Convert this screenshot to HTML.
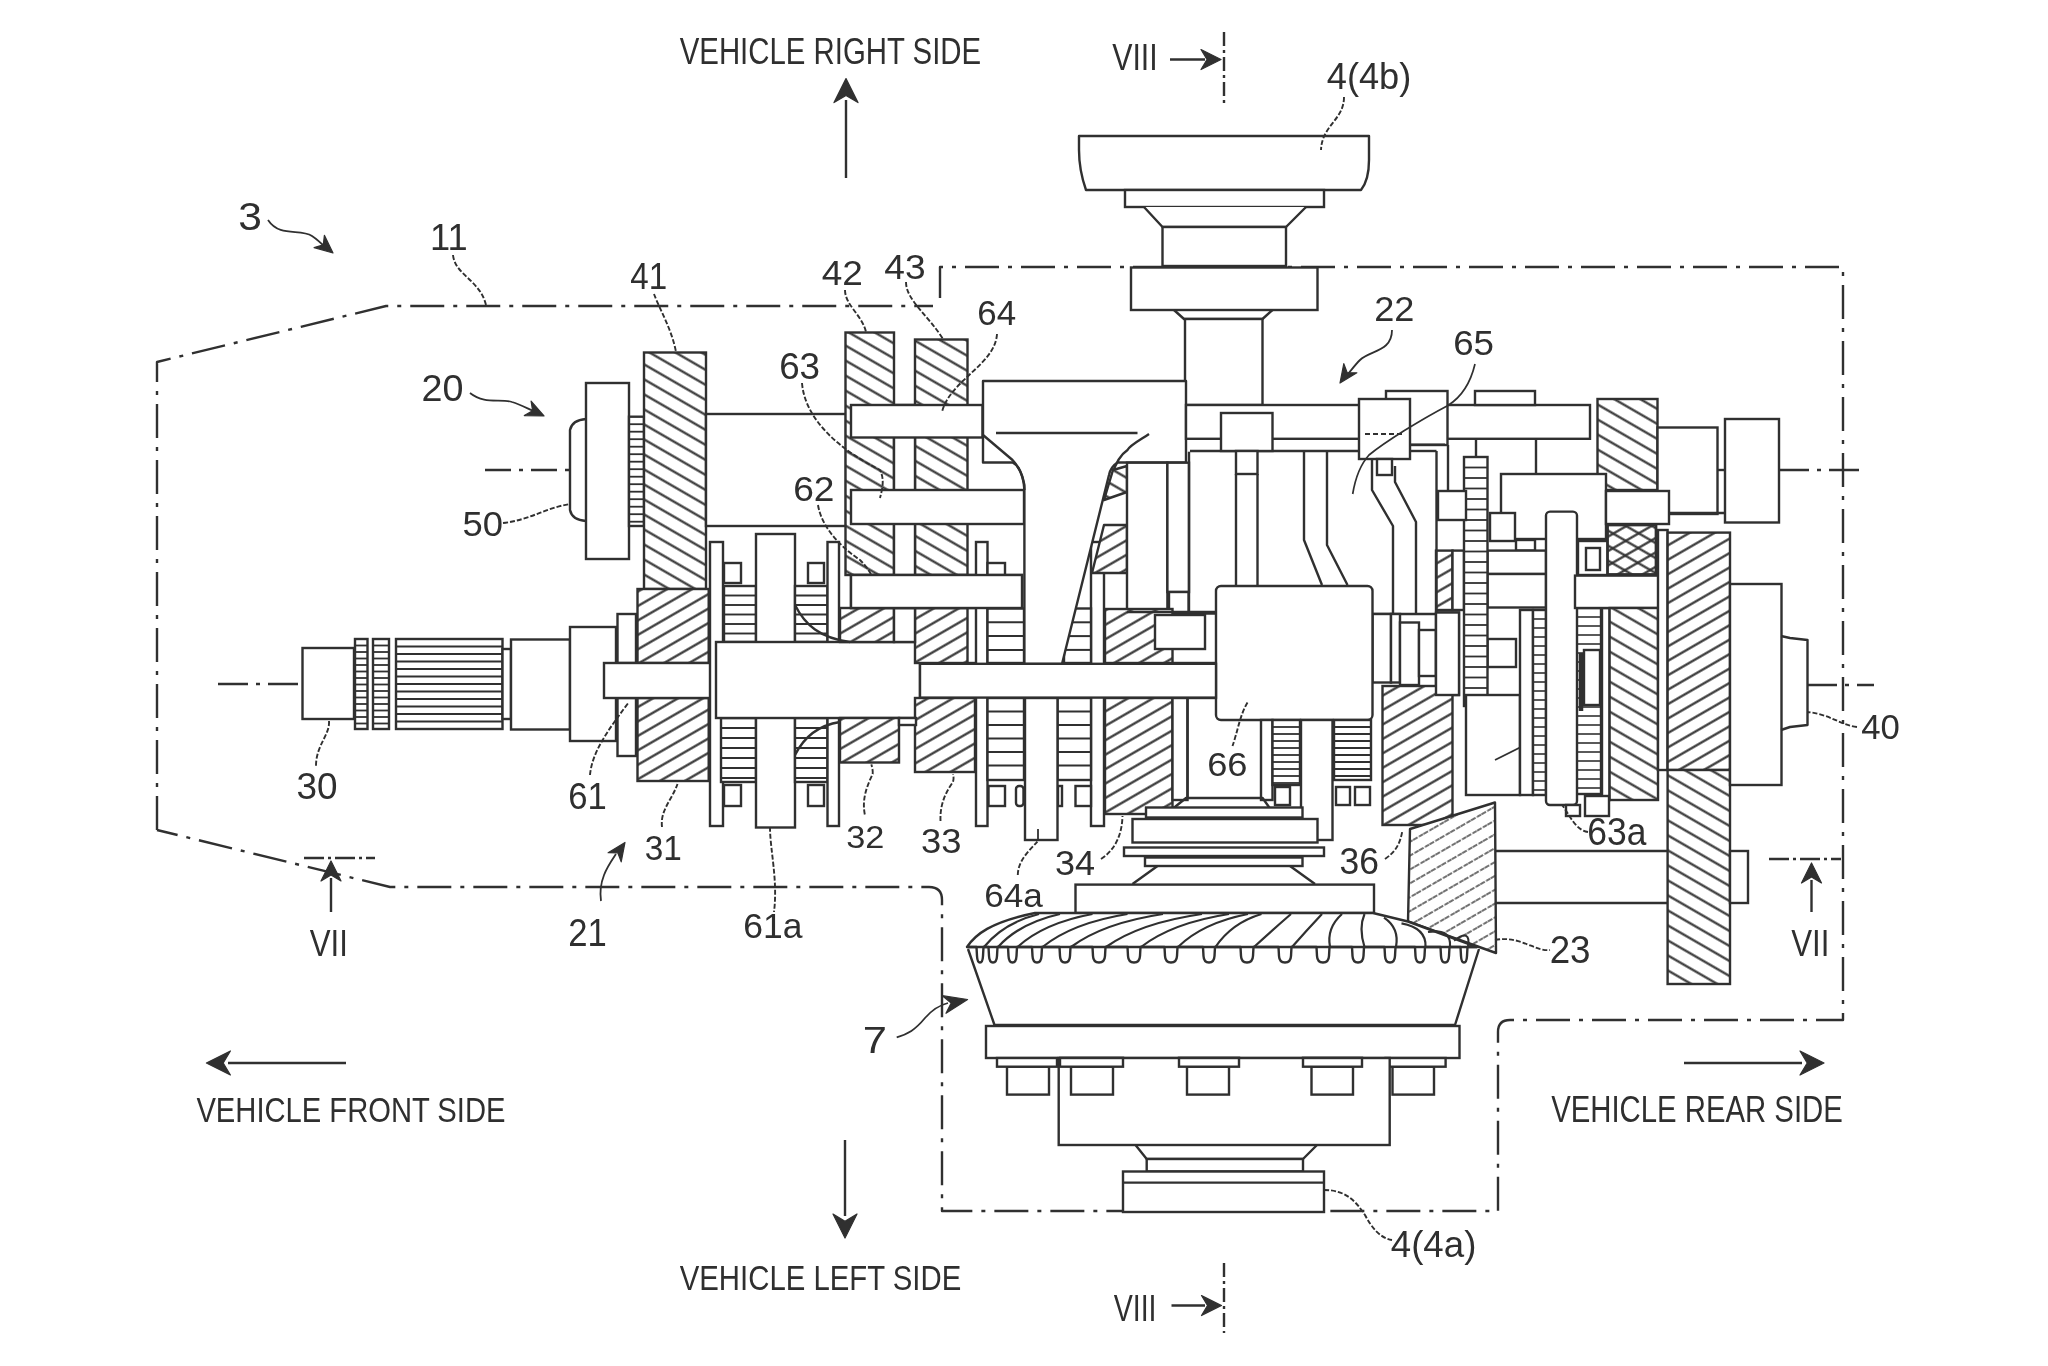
<!DOCTYPE html>
<html><head><meta charset="utf-8"><title>Transmission diagram</title>
<style>
html,body{margin:0;padding:0;background:#fff;}
svg{display:block;}
text{font-family:"Liberation Sans",sans-serif;}
</style></head><body>
<svg width="2048" height="1366" viewBox="0 0 2048 1366">
<defs>
<pattern id="hb" patternUnits="userSpaceOnUse" width="13" height="13" patternTransform="rotate(30)">
<rect width="13" height="13" fill="#fff"/><line x1="0" y1="6.5" x2="13" y2="6.5" stroke="#303030" stroke-width="2.2"/></pattern>
<pattern id="hf" patternUnits="userSpaceOnUse" width="12.5" height="12.5" patternTransform="rotate(-30)">
<rect width="12.5" height="12.5" fill="#fff"/><line x1="0" y1="6.25" x2="12.5" y2="6.25" stroke="#303030" stroke-width="2.2"/></pattern>
<pattern id="hf2" patternUnits="userSpaceOnUse" width="12.5" height="12.5" patternTransform="rotate(-30)">
<line x1="0" y1="6.25" x2="12.5" y2="6.25" stroke="#303030" stroke-width="2.2"/></pattern>
<pattern id="hfl" patternUnits="userSpaceOnUse" width="12" height="12" patternTransform="rotate(-30)">
<rect width="12" height="12" fill="#fff"/><line x1="0" y1="6" x2="12" y2="6" stroke="#444" stroke-width="1.6" stroke-dasharray="5 1.5"/></pattern>
</defs>
<rect width="2048" height="1366" fill="#fff"/>
<path d="M157,830 L157,362 L386,306 L933,306" fill="none" stroke="#303030" stroke-width="2.4" stroke-linejoin="round" stroke-dasharray="34 9 4 9"/>
<path d="M940,298 L940,267 L1843,267 L1843,1020 L1510,1020 Q1498,1020 1498,1032 L1498,1211 L942,1211 L942,900 Q942,887 929,887 L390,887 L157,830" fill="none" stroke="#303030" stroke-width="2.4" stroke-linejoin="round" stroke-dasharray="34 9 4 9"/>
<line x1="218.0" y1="684.0" x2="302.0" y2="684.0" stroke="#303030" stroke-width="2.4" stroke-dasharray="30 8 4 8"/>
<line x1="1807.0" y1="685.0" x2="1874.0" y2="685.0" stroke="#303030" stroke-width="2.4" stroke-dasharray="30 8 4 8"/>
<line x1="485.0" y1="470.0" x2="570.0" y2="470.0" stroke="#303030" stroke-width="2.4" stroke-dasharray="26 8 4 8"/>
<line x1="1779.0" y1="470.0" x2="1865.0" y2="470.0" stroke="#303030" stroke-width="2.4" stroke-dasharray="30 8 4 8"/>
<line x1="846.0" y1="100.0" x2="846.0" y2="178.0" stroke="#303030" stroke-width="2.4" />
<path d="M846.0,78.6 L858.0,102.6 L846.0,95.4 L834.0,102.6 Z" fill="#303030" stroke="#303030" stroke-width="1.2" stroke-linejoin="round"/>
<line x1="845.0" y1="1140.0" x2="845.0" y2="1216.0" stroke="#303030" stroke-width="2.4" />
<path d="M845.0,1238.0 L833.0,1214.0 L845.0,1221.2 L857.0,1214.0 Z" fill="#303030" stroke="#303030" stroke-width="1.2" stroke-linejoin="round"/>
<line x1="228.0" y1="1063.0" x2="346.0" y2="1063.0" stroke="#303030" stroke-width="2.4" />
<path d="M206.4,1063.0 L230.4,1051.0 L223.2,1063.0 L230.4,1075.0 Z" fill="#303030" stroke="#303030" stroke-width="1.2" stroke-linejoin="round"/>
<line x1="1684.0" y1="1063.0" x2="1802.0" y2="1063.0" stroke="#303030" stroke-width="2.4" />
<path d="M1824.0,1063.0 L1800.0,1075.0 L1807.2,1063.0 L1800.0,1051.0 Z" fill="#303030" stroke="#303030" stroke-width="1.2" stroke-linejoin="round"/>
<line x1="1170.0" y1="59.5" x2="1205.0" y2="59.5" stroke="#303030" stroke-width="2.4" />
<path d="M1221.0,59.5 L1201.0,69.5 L1207.0,59.5 L1201.0,49.5 Z" fill="#303030" stroke="#303030" stroke-width="1.2" stroke-linejoin="round"/>
<line x1="1224.0" y1="32.0" x2="1224.0" y2="104.0" stroke="#303030" stroke-width="2.4" stroke-dasharray="14 4 3 4"/>
<line x1="1171.5" y1="1305.5" x2="1205.0" y2="1305.5" stroke="#303030" stroke-width="2.4" />
<path d="M1221.5,1305.5 L1201.5,1315.5 L1207.5,1305.5 L1201.5,1295.5 Z" fill="#303030" stroke="#303030" stroke-width="1.2" stroke-linejoin="round"/>
<line x1="1224.0" y1="1263.0" x2="1224.0" y2="1333.0" stroke="#303030" stroke-width="2.4" stroke-dasharray="14 4 3 4"/>
<line x1="304.0" y1="858.0" x2="375.0" y2="858.0" stroke="#303030" stroke-width="2.4" stroke-dasharray="20 4 3 4"/>
<line x1="331.0" y1="878.0" x2="331.0" y2="912.0" stroke="#303030" stroke-width="2.4" />
<path d="M331.0,861.0 L341.0,881.0 L331.0,875.0 L321.0,881.0 Z" fill="#303030" stroke="#303030" stroke-width="1.2" stroke-linejoin="round"/>
<line x1="1769.0" y1="859.0" x2="1841.0" y2="859.0" stroke="#303030" stroke-width="2.4" stroke-dasharray="20 4 3 4"/>
<line x1="1811.5" y1="880.0" x2="1811.5" y2="912.0" stroke="#303030" stroke-width="2.4" />
<path d="M1811.5,863.0 L1821.5,883.0 L1811.5,877.0 L1801.5,883.0 Z" fill="#303030" stroke="#303030" stroke-width="1.2" stroke-linejoin="round"/>
<path d="M268,220 C280,238 300,228 312,236 C318,240 322,244 326,248" fill="none" stroke="#303030" stroke-width="1.8" stroke-linejoin="round" />
<path d="M333.0,253.0 L314.1,247.6 L323.3,244.9 L324.4,235.3 Z" fill="#303030" stroke="#303030" stroke-width="1.2" stroke-linejoin="round"/>
<path d="M470,393 C485,405 500,398 512,402 C522,405 530,410 536,412" fill="none" stroke="#303030" stroke-width="1.8" stroke-linejoin="round" />
<path d="M544.0,416.0 L524.3,415.6 L532.6,410.7 L531.1,401.1 Z" fill="#303030" stroke="#303030" stroke-width="1.2" stroke-linejoin="round"/>
<path d="M1392,330 C1392,352 1370,350 1360,360 C1354,366 1350,372 1346,376" fill="none" stroke="#303030" stroke-width="1.8" stroke-linejoin="round" />
<path d="M1340.0,383.0 L1343.8,363.7 L1347.2,372.7 L1356.9,372.8 Z" fill="#303030" stroke="#303030" stroke-width="1.2" stroke-linejoin="round"/>
<path d="M601,901 C598,880 608,866 616,854" fill="none" stroke="#303030" stroke-width="1.8" stroke-linejoin="round" />
<path d="M625.0,842.5 L621.2,861.8 L617.8,852.8 L608.1,852.7 Z" fill="#303030" stroke="#303030" stroke-width="1.2" stroke-linejoin="round"/>
<path d="M896.7,1037.3 C908,1034 915,1030 925,1018 C932,1010 940,1005 948,1003" fill="none" stroke="#303030" stroke-width="1.8" stroke-linejoin="round" />
<path d="M967.6,999.5 L946.0,1013.3 L951.2,1003.0 L942.3,995.7 Z" fill="#303030" stroke="#303030" stroke-width="1.2" stroke-linejoin="round"/>
<path d="M453,255 C455,275 480,280 486,305" fill="none" stroke="#303030" stroke-width="1.9" stroke-linejoin="round" stroke-dasharray="5 2"/>
<rect x="604.0" y="663.0" width="612.0" height="35.0" fill="#fff" stroke="#303030" stroke-width="2.4" />
<rect x="302.5" y="648.0" width="51.5" height="71.0" fill="#fff" stroke="#303030" stroke-width="2.4" />
<rect x="355.0" y="639.0" width="12.5" height="90.0" fill="#fff" stroke="#303030" stroke-width="2.4" />
<line x1="355.0" y1="645.5" x2="367.5" y2="645.5" stroke="#303030" stroke-width="1.8" />
<line x1="355.0" y1="652.0" x2="367.5" y2="652.0" stroke="#303030" stroke-width="1.8" />
<line x1="355.0" y1="658.5" x2="367.5" y2="658.5" stroke="#303030" stroke-width="1.8" />
<line x1="355.0" y1="665.0" x2="367.5" y2="665.0" stroke="#303030" stroke-width="1.8" />
<line x1="355.0" y1="671.5" x2="367.5" y2="671.5" stroke="#303030" stroke-width="1.8" />
<line x1="355.0" y1="678.0" x2="367.5" y2="678.0" stroke="#303030" stroke-width="1.8" />
<line x1="355.0" y1="684.5" x2="367.5" y2="684.5" stroke="#303030" stroke-width="1.8" />
<line x1="355.0" y1="691.0" x2="367.5" y2="691.0" stroke="#303030" stroke-width="1.8" />
<line x1="355.0" y1="697.5" x2="367.5" y2="697.5" stroke="#303030" stroke-width="1.8" />
<line x1="355.0" y1="704.0" x2="367.5" y2="704.0" stroke="#303030" stroke-width="1.8" />
<line x1="355.0" y1="710.5" x2="367.5" y2="710.5" stroke="#303030" stroke-width="1.8" />
<line x1="355.0" y1="717.0" x2="367.5" y2="717.0" stroke="#303030" stroke-width="1.8" />
<line x1="355.0" y1="723.5" x2="367.5" y2="723.5" stroke="#303030" stroke-width="1.8" />
<rect x="373.0" y="639.0" width="16.0" height="90.0" fill="#fff" stroke="#303030" stroke-width="2.4" />
<line x1="373.0" y1="645.5" x2="389.0" y2="645.5" stroke="#303030" stroke-width="1.8" />
<line x1="373.0" y1="652.0" x2="389.0" y2="652.0" stroke="#303030" stroke-width="1.8" />
<line x1="373.0" y1="658.5" x2="389.0" y2="658.5" stroke="#303030" stroke-width="1.8" />
<line x1="373.0" y1="665.0" x2="389.0" y2="665.0" stroke="#303030" stroke-width="1.8" />
<line x1="373.0" y1="671.5" x2="389.0" y2="671.5" stroke="#303030" stroke-width="1.8" />
<line x1="373.0" y1="678.0" x2="389.0" y2="678.0" stroke="#303030" stroke-width="1.8" />
<line x1="373.0" y1="684.5" x2="389.0" y2="684.5" stroke="#303030" stroke-width="1.8" />
<line x1="373.0" y1="691.0" x2="389.0" y2="691.0" stroke="#303030" stroke-width="1.8" />
<line x1="373.0" y1="697.5" x2="389.0" y2="697.5" stroke="#303030" stroke-width="1.8" />
<line x1="373.0" y1="704.0" x2="389.0" y2="704.0" stroke="#303030" stroke-width="1.8" />
<line x1="373.0" y1="710.5" x2="389.0" y2="710.5" stroke="#303030" stroke-width="1.8" />
<line x1="373.0" y1="717.0" x2="389.0" y2="717.0" stroke="#303030" stroke-width="1.8" />
<line x1="373.0" y1="723.5" x2="389.0" y2="723.5" stroke="#303030" stroke-width="1.8" />
<rect x="396.0" y="639.0" width="106.5" height="90.0" fill="#fff" stroke="#303030" stroke-width="2.4" />
<line x1="396.0" y1="646.5" x2="502.5" y2="646.5" stroke="#303030" stroke-width="2.0" />
<line x1="396.0" y1="654.0" x2="502.5" y2="654.0" stroke="#303030" stroke-width="2.0" />
<line x1="396.0" y1="661.5" x2="502.5" y2="661.5" stroke="#303030" stroke-width="2.0" />
<line x1="396.0" y1="669.0" x2="502.5" y2="669.0" stroke="#303030" stroke-width="2.0" />
<line x1="396.0" y1="676.5" x2="502.5" y2="676.5" stroke="#303030" stroke-width="2.0" />
<line x1="396.0" y1="684.0" x2="502.5" y2="684.0" stroke="#303030" stroke-width="2.0" />
<line x1="396.0" y1="691.5" x2="502.5" y2="691.5" stroke="#303030" stroke-width="2.0" />
<line x1="396.0" y1="699.0" x2="502.5" y2="699.0" stroke="#303030" stroke-width="2.0" />
<line x1="396.0" y1="706.5" x2="502.5" y2="706.5" stroke="#303030" stroke-width="2.0" />
<line x1="396.0" y1="714.0" x2="502.5" y2="714.0" stroke="#303030" stroke-width="2.0" />
<line x1="396.0" y1="721.5" x2="502.5" y2="721.5" stroke="#303030" stroke-width="2.0" />
<rect x="502.5" y="649.0" width="8.5" height="70.0" fill="#fff" stroke="#303030" stroke-width="2.4" />
<rect x="511.0" y="639.5" width="59.0" height="90.0" fill="#fff" stroke="#303030" stroke-width="2.4" />
<rect x="570.0" y="627.0" width="46.0" height="114.0" fill="#fff" stroke="#303030" stroke-width="2.4" />
<rect x="617.5" y="614.0" width="18.5" height="49.0" fill="#fff" stroke="#303030" stroke-width="2.4" />
<rect x="617.5" y="698.0" width="18.5" height="58.0" fill="#fff" stroke="#303030" stroke-width="2.4" />
<path d="M329,721 C330,735 316,745 316,766" fill="none" stroke="#303030" stroke-width="1.9" stroke-linejoin="round" stroke-dasharray="5 2"/>
<path d="M590,775 C592,752 608,730 629,702" fill="none" stroke="#303030" stroke-width="1.9" stroke-linejoin="round" stroke-dasharray="5 2"/>
<path d="M662,827 C660,810 672,800 677.5,784" fill="none" stroke="#303030" stroke-width="1.9" stroke-linejoin="round" stroke-dasharray="5 2"/>
<path d="M586,419 Q572,420 570,430 L570,510 Q572,520 586,521" fill="none" stroke="#303030" stroke-width="2.4" stroke-linejoin="round" />
<rect x="586.0" y="383.0" width="43.0" height="176.0" fill="#fff" stroke="#303030" stroke-width="2.4" />
<rect x="629.0" y="416.7" width="15.0" height="109.3" fill="#fff" stroke="#303030" stroke-width="2.4" />
<line x1="629.0" y1="424.2" x2="644.0" y2="424.2" stroke="#303030" stroke-width="1.8" />
<line x1="629.0" y1="431.7" x2="644.0" y2="431.7" stroke="#303030" stroke-width="1.8" />
<line x1="629.0" y1="439.2" x2="644.0" y2="439.2" stroke="#303030" stroke-width="1.8" />
<line x1="629.0" y1="446.7" x2="644.0" y2="446.7" stroke="#303030" stroke-width="1.8" />
<line x1="629.0" y1="454.2" x2="644.0" y2="454.2" stroke="#303030" stroke-width="1.8" />
<line x1="629.0" y1="461.7" x2="644.0" y2="461.7" stroke="#303030" stroke-width="1.8" />
<line x1="629.0" y1="469.2" x2="644.0" y2="469.2" stroke="#303030" stroke-width="1.8" />
<line x1="629.0" y1="476.7" x2="644.0" y2="476.7" stroke="#303030" stroke-width="1.8" />
<line x1="629.0" y1="484.2" x2="644.0" y2="484.2" stroke="#303030" stroke-width="1.8" />
<line x1="629.0" y1="491.7" x2="644.0" y2="491.7" stroke="#303030" stroke-width="1.8" />
<line x1="629.0" y1="499.2" x2="644.0" y2="499.2" stroke="#303030" stroke-width="1.8" />
<line x1="629.0" y1="506.7" x2="644.0" y2="506.7" stroke="#303030" stroke-width="1.8" />
<line x1="629.0" y1="514.2" x2="644.0" y2="514.2" stroke="#303030" stroke-width="1.8" />
<line x1="629.0" y1="521.7" x2="644.0" y2="521.7" stroke="#303030" stroke-width="1.8" />
<path d="M503,523 C530,520 545,508 570,504" fill="none" stroke="#303030" stroke-width="1.9" stroke-linejoin="round" stroke-dasharray="5 2"/>
<rect x="644.0" y="352.5" width="62.0" height="236.5" fill="url(#hb)" stroke="#303030" stroke-width="2.4"/>
<rect x="637.5" y="589.0" width="71.2" height="74.0" fill="url(#hf)" stroke="#303030" stroke-width="2.4"/>
<rect x="637.5" y="698.0" width="71.2" height="83.0" fill="url(#hf)" stroke="#303030" stroke-width="2.4"/>
<rect x="604.0" y="663.0" width="112.0" height="35.0" fill="#fff" stroke="#303030" stroke-width="2.4" />
<path d="M654,294 C660,310 672,330 676,352" fill="none" stroke="#303030" stroke-width="1.9" stroke-linejoin="round" stroke-dasharray="5 2"/>
<rect x="706.0" y="414.0" width="140.0" height="112.0" fill="#fff" stroke="#303030" stroke-width="2.4" />
<rect x="710.0" y="542.0" width="13.0" height="284.0" fill="#fff" stroke="#303030" stroke-width="2.4" />
<rect x="724.0" y="563.0" width="17.0" height="20.0" fill="#fff" stroke="#303030" stroke-width="2.4" />
<rect x="724.0" y="785.0" width="17.0" height="21.0" fill="#fff" stroke="#303030" stroke-width="2.4" />
<rect x="724.0" y="586.0" width="32.0" height="56.0" fill="#fff" stroke="#303030" stroke-width="2.4" />
<line x1="724.0" y1="595.5" x2="756.0" y2="595.5" stroke="#303030" stroke-width="1.9" />
<line x1="724.0" y1="605.0" x2="756.0" y2="605.0" stroke="#303030" stroke-width="1.9" />
<line x1="724.0" y1="614.5" x2="756.0" y2="614.5" stroke="#303030" stroke-width="1.9" />
<line x1="724.0" y1="624.0" x2="756.0" y2="624.0" stroke="#303030" stroke-width="1.9" />
<line x1="724.0" y1="633.5" x2="756.0" y2="633.5" stroke="#303030" stroke-width="1.9" />
<rect x="721.0" y="718.0" width="35.0" height="64.0" fill="#fff" stroke="#303030" stroke-width="2.4" />
<line x1="721.0" y1="728.0" x2="756.0" y2="728.0" stroke="#303030" stroke-width="1.9" />
<line x1="721.0" y1="738.0" x2="756.0" y2="738.0" stroke="#303030" stroke-width="1.9" />
<line x1="721.0" y1="748.0" x2="756.0" y2="748.0" stroke="#303030" stroke-width="1.9" />
<line x1="721.0" y1="758.0" x2="756.0" y2="758.0" stroke="#303030" stroke-width="1.9" />
<line x1="721.0" y1="768.0" x2="756.0" y2="768.0" stroke="#303030" stroke-width="1.9" />
<line x1="721.0" y1="778.0" x2="756.0" y2="778.0" stroke="#303030" stroke-width="1.9" />
<rect x="756.0" y="534.0" width="39.0" height="293.5" fill="#fff" stroke="#303030" stroke-width="2.4" />
<rect x="808.0" y="563.0" width="16.0" height="20.0" fill="#fff" stroke="#303030" stroke-width="2.4" />
<rect x="808.0" y="785.0" width="16.0" height="21.0" fill="#fff" stroke="#303030" stroke-width="2.4" />
<rect x="795.0" y="586.0" width="32.5" height="56.0" fill="#fff" stroke="#303030" stroke-width="2.4" />
<line x1="795.0" y1="595.5" x2="827.5" y2="595.5" stroke="#303030" stroke-width="1.9" />
<line x1="795.0" y1="605.0" x2="827.5" y2="605.0" stroke="#303030" stroke-width="1.9" />
<line x1="795.0" y1="614.5" x2="827.5" y2="614.5" stroke="#303030" stroke-width="1.9" />
<line x1="795.0" y1="624.0" x2="827.5" y2="624.0" stroke="#303030" stroke-width="1.9" />
<line x1="795.0" y1="633.5" x2="827.5" y2="633.5" stroke="#303030" stroke-width="1.9" />
<rect x="795.0" y="718.0" width="32.5" height="64.0" fill="#fff" stroke="#303030" stroke-width="2.4" />
<line x1="795.0" y1="728.0" x2="827.5" y2="728.0" stroke="#303030" stroke-width="1.9" />
<line x1="795.0" y1="738.0" x2="827.5" y2="738.0" stroke="#303030" stroke-width="1.9" />
<line x1="795.0" y1="748.0" x2="827.5" y2="748.0" stroke="#303030" stroke-width="1.9" />
<line x1="795.0" y1="758.0" x2="827.5" y2="758.0" stroke="#303030" stroke-width="1.9" />
<line x1="795.0" y1="768.0" x2="827.5" y2="768.0" stroke="#303030" stroke-width="1.9" />
<line x1="795.0" y1="778.0" x2="827.5" y2="778.0" stroke="#303030" stroke-width="1.9" />
<rect x="827.5" y="542.0" width="11.5" height="284.0" fill="#fff" stroke="#303030" stroke-width="2.4" />
<rect x="716.0" y="642.0" width="204.0" height="76.0" fill="#fff" stroke="#303030" stroke-width="2.4" />
<path d="M770,827 C770,850 778,880 774,912" fill="none" stroke="#303030" stroke-width="1.9" stroke-linejoin="round" stroke-dasharray="5 2"/>
<rect x="845.5" y="332.5" width="48.5" height="242.5" fill="url(#hb)" stroke="#303030" stroke-width="2.4"/>
<rect x="915.0" y="339.5" width="52.5" height="235.5" fill="url(#hb)" stroke="#303030" stroke-width="2.4"/>
<rect x="894.0" y="405.0" width="21.0" height="203.0" fill="#fff" stroke="#303030" stroke-width="2.4" />
<rect x="840.0" y="608.0" width="54.0" height="34.0" fill="url(#hf)" stroke="#303030" stroke-width="2.4"/>
<rect x="915.0" y="608.0" width="52.5" height="55.0" fill="url(#hf)" stroke="#303030" stroke-width="2.4"/>
<rect x="894.0" y="608.0" width="21.0" height="34.0" fill="#fff" stroke="#303030" stroke-width="2.4" />
<rect x="851.0" y="405.0" width="131.5" height="32.5" fill="#fff" stroke="#303030" stroke-width="2.4" />
<rect x="851.0" y="490.0" width="173.0" height="34.0" fill="#fff" stroke="#303030" stroke-width="2.4" />
<rect x="851.0" y="575.0" width="171.0" height="33.0" fill="#fff" stroke="#303030" stroke-width="2.4" />
<rect x="840.0" y="718.0" width="59.0" height="44.5" fill="url(#hf)" stroke="#303030" stroke-width="2.4"/>
<rect x="915.0" y="698.0" width="60.0" height="74.0" fill="url(#hf)" stroke="#303030" stroke-width="2.4"/>
<rect x="899.0" y="718.0" width="17.0" height="7.0" fill="#fff" stroke="#303030" stroke-width="2.4" />
<path d="M795,755 C805,735 820,725 840,722" fill="none" stroke="#303030" stroke-width="2.4" stroke-linejoin="round" />
<path d="M795,605 C805,625 820,638 850,642" fill="none" stroke="#303030" stroke-width="2.4" stroke-linejoin="round" />
<path d="M845,290 C845,305 862,315 866,332" fill="none" stroke="#303030" stroke-width="1.9" stroke-linejoin="round" stroke-dasharray="5 2"/>
<path d="M906,282 C906,300 928,315 943,339" fill="none" stroke="#303030" stroke-width="1.9" stroke-linejoin="round" stroke-dasharray="5 2"/>
<path d="M997,334 C995,365 950,380 942,412" fill="none" stroke="#303030" stroke-width="1.9" stroke-linejoin="round" stroke-dasharray="5 2"/>
<path d="M802,383 C805,420 840,450 880,470 C885,480 882,490 880,498" fill="none" stroke="#303030" stroke-width="1.9" stroke-linejoin="round" stroke-dasharray="5 2"/>
<path d="M818,505 C822,530 845,550 860,560 C870,570 875,580 876,590" fill="none" stroke="#303030" stroke-width="1.9" stroke-linejoin="round" stroke-dasharray="5 2"/>
<path d="M864.8,814.5 C862,800 866,788 872.7,774 C873,770 872,767 871.4,764.4" fill="none" stroke="#303030" stroke-width="1.9" stroke-linejoin="round" stroke-dasharray="5 2"/>
<path d="M940.5,821 C940,808 943,796 953,782 C954,778 953.5,776 953,774.3" fill="none" stroke="#303030" stroke-width="1.9" stroke-linejoin="round" stroke-dasharray="5 2"/>
<rect x="976.0" y="542.0" width="11.5" height="284.0" fill="#fff" stroke="#303030" stroke-width="2.4" />
<rect x="987.5" y="563.0" width="17.5" height="12.0" fill="#fff" stroke="#303030" stroke-width="2.4" />
<rect x="987.5" y="608.5" width="36.5" height="54.5" fill="#fff" stroke="#303030" stroke-width="2.4" />
<line x1="987.5" y1="622.3" x2="1024.0" y2="622.3" stroke="#303030" stroke-width="2.0" />
<line x1="987.5" y1="636.1" x2="1024.0" y2="636.1" stroke="#303030" stroke-width="2.0" />
<line x1="987.5" y1="649.9" x2="1024.0" y2="649.9" stroke="#303030" stroke-width="2.0" />
<rect x="987.5" y="698.0" width="36.5" height="82.0" fill="#fff" stroke="#303030" stroke-width="2.4" />
<line x1="987.5" y1="711.5" x2="1024.0" y2="711.5" stroke="#303030" stroke-width="2.0" />
<line x1="987.5" y1="725.0" x2="1024.0" y2="725.0" stroke="#303030" stroke-width="2.0" />
<line x1="987.5" y1="738.5" x2="1024.0" y2="738.5" stroke="#303030" stroke-width="2.0" />
<line x1="987.5" y1="752.0" x2="1024.0" y2="752.0" stroke="#303030" stroke-width="2.0" />
<line x1="987.5" y1="765.5" x2="1024.0" y2="765.5" stroke="#303030" stroke-width="2.0" />
<rect x="988.5" y="786.0" width="16.5" height="20.0" fill="#fff" stroke="#303030" stroke-width="2.4" />
<rect x="1016.0" y="786.0" width="7.5" height="20.0" fill="#fff" stroke="#303030" stroke-width="2.4" rx="3"/>
<rect x="1091.0" y="542.0" width="13.0" height="284.0" fill="#fff" stroke="#303030" stroke-width="2.4" />
<rect x="851.0" y="575.0" width="171.0" height="33.0" fill="#fff" stroke="#303030" stroke-width="2.4" />
<rect x="1057.5" y="698.0" width="33.5" height="82.0" fill="#fff" stroke="#303030" stroke-width="2.4" />
<line x1="1057.5" y1="711.5" x2="1091.0" y2="711.5" stroke="#303030" stroke-width="2.0" />
<line x1="1057.5" y1="725.0" x2="1091.0" y2="725.0" stroke="#303030" stroke-width="2.0" />
<line x1="1057.5" y1="738.5" x2="1091.0" y2="738.5" stroke="#303030" stroke-width="2.0" />
<line x1="1057.5" y1="752.0" x2="1091.0" y2="752.0" stroke="#303030" stroke-width="2.0" />
<line x1="1057.5" y1="765.5" x2="1091.0" y2="765.5" stroke="#303030" stroke-width="2.0" />
<rect x="1064.0" y="608.5" width="27.0" height="54.5" fill="#fff" stroke="#303030" stroke-width="2.4" />
<line x1="1064.0" y1="622.3" x2="1091.0" y2="622.3" stroke="#303030" stroke-width="2.0" />
<line x1="1064.0" y1="636.1" x2="1091.0" y2="636.1" stroke="#303030" stroke-width="2.0" />
<line x1="1064.0" y1="649.9" x2="1091.0" y2="649.9" stroke="#303030" stroke-width="2.0" />
<rect x="1075.5" y="786.0" width="15.5" height="20.0" fill="#fff" stroke="#303030" stroke-width="2.4" />
<rect x="1058.0" y="786.0" width="4.0" height="20.0" fill="#fff" stroke="#303030" stroke-width="2.4" />
<path d="M1079,136 L1369,136 L1369,160 Q1369,180 1361,190 L1086,190 Q1079,170 1079,150 Z" fill="#fff" stroke="#303030" stroke-width="2.4" stroke-linejoin="round" />
<rect x="1125.0" y="190.0" width="199.0" height="17.0" fill="#fff" stroke="#303030" stroke-width="2.4" />
<path d="M1144,207 L1162.5,227 L1286,227 L1306,207" fill="#fff" stroke="#303030" stroke-width="2.4" stroke-linejoin="round" />
<rect x="1162.5" y="227.0" width="123.5" height="39.0" fill="#fff" stroke="#303030" stroke-width="2.4" />
<rect x="1131.0" y="267.5" width="186.5" height="42.5" fill="#fff" stroke="#303030" stroke-width="2.4" />
<path d="M1174,310 L1184,319 L1262.5,319 L1272.5,310" fill="none" stroke="#303030" stroke-width="2.4" stroke-linejoin="round" />
<path d="M1344,97 C1344,120 1322,125 1321,150" fill="none" stroke="#303030" stroke-width="1.9" stroke-linejoin="round" stroke-dasharray="5 2"/>
<rect x="1185.0" y="319.0" width="77.5" height="86.0" fill="#fff" stroke="#303030" stroke-width="2.4" />
<path d="M983,381 L1186,381 L1186,462.5 L1117.5,462.5 C1112,466 1110,470 1109,475 L1062,664 L1024.4,664 L1024.4,485 C1022,472 1018,465 1012.5,462.5 L983,462.5 Z" fill="#fff" stroke="#303030" stroke-width="2.4" stroke-linejoin="round" />
<path d="M983,435 L1012.5,460 C1020,468 1024,478 1024.4,490" fill="none" stroke="#303030" stroke-width="2.4" stroke-linejoin="round" />
<line x1="996.0" y1="433.0" x2="1137.5" y2="433.0" stroke="#303030" stroke-width="2.4" />
<path d="M1149,434 C1140,440 1130,445 1127.5,450 C1120,455 1115,465 1112,475" fill="none" stroke="#303030" stroke-width="2.4" stroke-linejoin="round" />
<rect x="1025.0" y="698.0" width="32.5" height="142.0" fill="#fff" stroke="#303030" stroke-width="2.4" />
<path d="M1017.8,875 C1018,860 1030,850 1037.4,841.6" fill="none" stroke="#303030" stroke-width="1.9" stroke-linejoin="round" stroke-dasharray="5 2"/>
<line x1="1038.0" y1="829.0" x2="1038.0" y2="841.0" stroke="#303030" stroke-width="1.8" />
<path d="M1101,859 C1115,850 1122,835 1122.5,816" fill="none" stroke="#303030" stroke-width="1.9" stroke-linejoin="round" stroke-dasharray="5 2"/>
<rect x="1186.0" y="405.0" width="404.0" height="33.8" fill="#fff" stroke="#303030" stroke-width="2.4" />
<line x1="1190.0" y1="451.0" x2="1359.0" y2="451.0" stroke="#303030" stroke-width="2.4" />
<rect x="1221.0" y="413.0" width="51.5" height="38.0" fill="#fff" stroke="#303030" stroke-width="2.4" />
<rect x="1236.0" y="451.0" width="21.5" height="23.0" fill="#fff" stroke="#303030" stroke-width="2.4" />
<path d="M1104,525 L1127,525 L1127,573 L1092,573 Z" fill="url(#hf)" stroke="#303030" stroke-width="2.4" stroke-linejoin="round"/>
<path d="M1113,470 L1127,466 L1127,492 L1104,500 Z" fill="url(#hb)" stroke="#303030" stroke-width="2.4" stroke-linejoin="round"/>
<rect x="1127.0" y="462.7" width="40.4" height="150.8" fill="#fff" stroke="#303030" stroke-width="2.4" />
<rect x="1167.4" y="462.7" width="21.6" height="129.3" fill="#fff" stroke="#303030" stroke-width="2.4" />
<rect x="1169.0" y="592.0" width="19.6" height="21.5" fill="#fff" stroke="#303030" stroke-width="2.4" />
<line x1="1189.0" y1="451.7" x2="1189.0" y2="613.5" stroke="#303030" stroke-width="2.4" />
<line x1="1127.0" y1="613.5" x2="1216.0" y2="613.5" stroke="#303030" stroke-width="2.4" />
<line x1="1236.0" y1="474.0" x2="1236.0" y2="586.0" stroke="#303030" stroke-width="2.4" />
<line x1="1257.5" y1="474.0" x2="1257.5" y2="586.0" stroke="#303030" stroke-width="2.4" />
<path d="M1304,452 L1304,540 L1322,585" fill="none" stroke="#303030" stroke-width="2.4" stroke-linejoin="round" />
<path d="M1327,452 L1327,545 L1347.5,585" fill="none" stroke="#303030" stroke-width="2.4" stroke-linejoin="round" />
<rect x="1386.0" y="391.0" width="61.5" height="54.0" fill="#fff" stroke="#303030" stroke-width="2.4" />
<rect x="1359.0" y="399.0" width="51.0" height="60.0" fill="#fff" stroke="#303030" stroke-width="2.4" />
<line x1="1365.0" y1="434.0" x2="1405.0" y2="434.0" stroke="#303030" stroke-width="2.0" stroke-dasharray="5 3"/>
<rect x="1475.0" y="391.0" width="60.0" height="14.0" fill="#fff" stroke="#303030" stroke-width="2.4" />
<path d="M1372,459 L1372,490 L1393,526 L1393,614" fill="none" stroke="#303030" stroke-width="2.4" stroke-linejoin="round" />
<path d="M1395,466 L1395,482 L1416,522 L1416,614" fill="none" stroke="#303030" stroke-width="2.4" stroke-linejoin="round" />
<line x1="1373.0" y1="614.0" x2="1436.0" y2="614.0" stroke="#303030" stroke-width="2.4" />
<rect x="1436.0" y="550.6" width="16.5" height="59.4" fill="url(#hf)" stroke="#303030" stroke-width="2.4"/>
<rect x="1452.5" y="550.6" width="11.5" height="59.4" fill="#fff" stroke="#303030" stroke-width="2.4" />
<rect x="1516.0" y="540.0" width="19.0" height="10.6" fill="#fff" stroke="#303030" stroke-width="2.4" />
<rect x="1487.5" y="550.6" width="58.5" height="23.4" fill="#fff" stroke="#303030" stroke-width="2.4" />
<rect x="1487.5" y="574.0" width="58.5" height="33.5" fill="#fff" stroke="#303030" stroke-width="2.4" />
<rect x="1487.5" y="639.0" width="28.5" height="28.0" fill="#fff" stroke="#303030" stroke-width="2.4" />
<rect x="1372.5" y="614.0" width="18.5" height="68.5" fill="#fff" stroke="#303030" stroke-width="2.4" />
<rect x="1391.0" y="614.0" width="9.0" height="68.5" fill="#fff" stroke="#303030" stroke-width="2.4" />
<rect x="1400.0" y="622.5" width="19.0" height="62.5" fill="#fff" stroke="#303030" stroke-width="2.4" />
<rect x="1419.0" y="630.0" width="17.0" height="46.0" fill="#fff" stroke="#303030" stroke-width="2.4" />
<rect x="1436.0" y="612.5" width="23.0" height="82.5" fill="#fff" stroke="#303030" stroke-width="2.4" />
<rect x="1377.0" y="459.0" width="15.0" height="16.0" fill="#fff" stroke="#303030" stroke-width="2.4" />
<path d="M1475,364 C1470,385 1460,398 1448,405.4 C1420,420 1385,442 1369,455 C1360,465 1355,480 1352.7,494" fill="none" stroke="#303030" stroke-width="1.7" stroke-linejoin="round" />
<line x1="1448.0" y1="445.0" x2="1448.0" y2="491.7" stroke="#303030" stroke-width="2.4" />
<line x1="1436.5" y1="451.0" x2="1436.5" y2="612.0" stroke="#303030" stroke-width="2.4" />
<line x1="1411.0" y1="444.7" x2="1445.0" y2="444.7" stroke="#303030" stroke-width="2.4" />
<line x1="1411.0" y1="451.0" x2="1436.5" y2="451.0" stroke="#303030" stroke-width="2.4" />
<rect x="1105.0" y="609.0" width="67.5" height="54.0" fill="url(#hf)" stroke="#303030" stroke-width="2.4"/>
<rect x="1105.0" y="698.0" width="67.5" height="116.0" fill="url(#hf)" stroke="#303030" stroke-width="2.4"/>
<rect x="1155.0" y="615.0" width="50.0" height="34.0" fill="#fff" stroke="#303030" stroke-width="2.4" />
<rect x="1172.5" y="698.0" width="15.0" height="102.0" fill="#fff" stroke="#303030" stroke-width="2.4" />
<rect x="1216.0" y="586.0" width="156.5" height="134.0" fill="#fff" stroke="#303030" stroke-width="2.4" rx="5"/>
<line x1="1127.0" y1="612.0" x2="1216.0" y2="612.0" stroke="#303030" stroke-width="2.4" />
<rect x="1261.0" y="720.0" width="11.5" height="80.0" fill="#fff" stroke="#303030" stroke-width="2.4" />
<rect x="1272.5" y="720.0" width="27.5" height="65.0" fill="#fff" stroke="#303030" stroke-width="2.4" />
<line x1="1272.5" y1="727.0" x2="1300.0" y2="727.0" stroke="#303030" stroke-width="1.8" />
<line x1="1272.5" y1="734.0" x2="1300.0" y2="734.0" stroke="#303030" stroke-width="1.8" />
<line x1="1272.5" y1="741.0" x2="1300.0" y2="741.0" stroke="#303030" stroke-width="1.8" />
<line x1="1272.5" y1="748.0" x2="1300.0" y2="748.0" stroke="#303030" stroke-width="1.8" />
<line x1="1272.5" y1="755.0" x2="1300.0" y2="755.0" stroke="#303030" stroke-width="1.8" />
<line x1="1272.5" y1="762.0" x2="1300.0" y2="762.0" stroke="#303030" stroke-width="1.8" />
<line x1="1272.5" y1="769.0" x2="1300.0" y2="769.0" stroke="#303030" stroke-width="1.8" />
<line x1="1272.5" y1="776.0" x2="1300.0" y2="776.0" stroke="#303030" stroke-width="1.8" />
<line x1="1272.5" y1="783.0" x2="1300.0" y2="783.0" stroke="#303030" stroke-width="1.8" />
<rect x="1301.0" y="720.0" width="31.5" height="120.0" fill="#fff" stroke="#303030" stroke-width="2.4" />
<rect x="1334.0" y="720.0" width="37.0" height="60.0" fill="#fff" stroke="#303030" stroke-width="2.4" />
<line x1="1334.0" y1="727.0" x2="1371.0" y2="727.0" stroke="#303030" stroke-width="1.8" />
<line x1="1334.0" y1="734.0" x2="1371.0" y2="734.0" stroke="#303030" stroke-width="1.8" />
<line x1="1334.0" y1="741.0" x2="1371.0" y2="741.0" stroke="#303030" stroke-width="1.8" />
<line x1="1334.0" y1="748.0" x2="1371.0" y2="748.0" stroke="#303030" stroke-width="1.8" />
<line x1="1334.0" y1="755.0" x2="1371.0" y2="755.0" stroke="#303030" stroke-width="1.8" />
<line x1="1334.0" y1="762.0" x2="1371.0" y2="762.0" stroke="#303030" stroke-width="1.8" />
<line x1="1334.0" y1="769.0" x2="1371.0" y2="769.0" stroke="#303030" stroke-width="1.8" />
<line x1="1334.0" y1="776.0" x2="1371.0" y2="776.0" stroke="#303030" stroke-width="1.8" />
<rect x="1275.0" y="787.0" width="15.0" height="18.0" fill="#fff" stroke="#303030" stroke-width="2.4" />
<rect x="1336.0" y="787.0" width="14.0" height="18.0" fill="#fff" stroke="#303030" stroke-width="2.4" />
<rect x="1355.0" y="787.0" width="15.0" height="18.0" fill="#fff" stroke="#303030" stroke-width="2.4" />
<path d="M1247.5,702.5 C1240,715 1238,730 1232.5,746" fill="none" stroke="#303030" stroke-width="1.9" stroke-linejoin="round" stroke-dasharray="5 2"/>
<line x1="1187.5" y1="697.5" x2="1187.5" y2="798.0" stroke="#303030" stroke-width="2.4" />
<path d="M1173,808.5 L1186,798 L1262.6,798 L1270,808.5" fill="none" stroke="#303030" stroke-width="2.4" stroke-linejoin="round" />
<rect x="920.0" y="663.8" width="296.0" height="33.8" fill="#fff" stroke="#303030" stroke-width="2.4" />
<rect x="1146.0" y="807.5" width="156.5" height="10.0" fill="#fff" stroke="#303030" stroke-width="2.4" />
<rect x="1132.5" y="819.0" width="185.0" height="23.5" fill="#fff" stroke="#303030" stroke-width="2.4" />
<rect x="1124.0" y="847.5" width="200.0" height="8.5" fill="#fff" stroke="#303030" stroke-width="2.4" />
<rect x="1145.0" y="857.5" width="157.5" height="8.5" fill="#fff" stroke="#303030" stroke-width="2.4" />
<path d="M1157.5,866 L1132.5,884 M1290,866 L1315,884" fill="none" stroke="#303030" stroke-width="2.4" stroke-linejoin="round" />
<rect x="1075.5" y="884.6" width="298.5" height="28.4" fill="#fff" stroke="#303030" stroke-width="2.4" />
<rect x="1382.5" y="686.0" width="70.0" height="139.0" fill="url(#hf)" stroke="#303030" stroke-width="2.4"/>
<rect x="1436.0" y="612.5" width="23.0" height="82.5" fill="#fff" stroke="#303030" stroke-width="2.4" />
<path d="M1385,859 C1395,852 1400,845 1402.5,830" fill="none" stroke="#303030" stroke-width="1.9" stroke-linejoin="round" stroke-dasharray="5 2"/>
<path d="M1410,829 L1495,802.5 L1496,953 L1408,921.5 Z" fill="url(#hfl)" stroke="#303030" stroke-width="2.4" stroke-linejoin="round"/>
<path d="M1495,940 C1520,935 1535,952 1550,950" fill="none" stroke="#303030" stroke-width="1.9" stroke-linejoin="round" stroke-dasharray="5 2"/>
<line x1="1495.0" y1="851.0" x2="1667.0" y2="851.0" stroke="#303030" stroke-width="2.4" />
<line x1="1495.0" y1="903.0" x2="1667.0" y2="903.0" stroke="#303030" stroke-width="2.4" />
<rect x="1464.0" y="457.0" width="23.5" height="249.0" fill="#fff" stroke="#303030" stroke-width="2.4" />
<line x1="1464.0" y1="467.5" x2="1487.5" y2="467.5" stroke="#303030" stroke-width="1.8" />
<line x1="1464.0" y1="478.0" x2="1487.5" y2="478.0" stroke="#303030" stroke-width="1.8" />
<line x1="1464.0" y1="488.5" x2="1487.5" y2="488.5" stroke="#303030" stroke-width="1.8" />
<line x1="1464.0" y1="499.0" x2="1487.5" y2="499.0" stroke="#303030" stroke-width="1.8" />
<line x1="1464.0" y1="509.5" x2="1487.5" y2="509.5" stroke="#303030" stroke-width="1.8" />
<line x1="1464.0" y1="520.0" x2="1487.5" y2="520.0" stroke="#303030" stroke-width="1.8" />
<line x1="1464.0" y1="530.5" x2="1487.5" y2="530.5" stroke="#303030" stroke-width="1.8" />
<line x1="1464.0" y1="541.0" x2="1487.5" y2="541.0" stroke="#303030" stroke-width="1.8" />
<line x1="1464.0" y1="551.5" x2="1487.5" y2="551.5" stroke="#303030" stroke-width="1.8" />
<line x1="1464.0" y1="562.0" x2="1487.5" y2="562.0" stroke="#303030" stroke-width="1.8" />
<line x1="1464.0" y1="572.5" x2="1487.5" y2="572.5" stroke="#303030" stroke-width="1.8" />
<line x1="1464.0" y1="583.0" x2="1487.5" y2="583.0" stroke="#303030" stroke-width="1.8" />
<line x1="1464.0" y1="593.5" x2="1487.5" y2="593.5" stroke="#303030" stroke-width="1.8" />
<line x1="1464.0" y1="604.0" x2="1487.5" y2="604.0" stroke="#303030" stroke-width="1.8" />
<line x1="1464.0" y1="614.5" x2="1487.5" y2="614.5" stroke="#303030" stroke-width="1.8" />
<line x1="1464.0" y1="625.0" x2="1487.5" y2="625.0" stroke="#303030" stroke-width="1.8" />
<line x1="1464.0" y1="635.5" x2="1487.5" y2="635.5" stroke="#303030" stroke-width="1.8" />
<line x1="1464.0" y1="646.0" x2="1487.5" y2="646.0" stroke="#303030" stroke-width="1.8" />
<line x1="1464.0" y1="656.5" x2="1487.5" y2="656.5" stroke="#303030" stroke-width="1.8" />
<line x1="1464.0" y1="667.0" x2="1487.5" y2="667.0" stroke="#303030" stroke-width="1.8" />
<line x1="1464.0" y1="677.5" x2="1487.5" y2="677.5" stroke="#303030" stroke-width="1.8" />
<line x1="1464.0" y1="688.0" x2="1487.5" y2="688.0" stroke="#303030" stroke-width="1.8" />
<line x1="1464.0" y1="698.5" x2="1487.5" y2="698.5" stroke="#303030" stroke-width="1.8" />
<rect x="1466.0" y="695.0" width="54.0" height="100.0" fill="#fff" stroke="#303030" stroke-width="2.4" />
<line x1="1495.0" y1="760.0" x2="1545.0" y2="735.0" stroke="#303030" stroke-width="1.8" />
<rect x="1520.0" y="610.0" width="13.0" height="185.0" fill="#fff" stroke="#303030" stroke-width="2.4" />
<rect x="1533.0" y="610.0" width="13.0" height="185.0" fill="#fff" stroke="#303030" stroke-width="2.4" />
<line x1="1533.0" y1="619.0" x2="1546.0" y2="619.0" stroke="#303030" stroke-width="1.6" />
<line x1="1533.0" y1="628.0" x2="1546.0" y2="628.0" stroke="#303030" stroke-width="1.6" />
<line x1="1533.0" y1="637.0" x2="1546.0" y2="637.0" stroke="#303030" stroke-width="1.6" />
<line x1="1533.0" y1="646.0" x2="1546.0" y2="646.0" stroke="#303030" stroke-width="1.6" />
<line x1="1533.0" y1="655.0" x2="1546.0" y2="655.0" stroke="#303030" stroke-width="1.6" />
<line x1="1533.0" y1="664.0" x2="1546.0" y2="664.0" stroke="#303030" stroke-width="1.6" />
<line x1="1533.0" y1="673.0" x2="1546.0" y2="673.0" stroke="#303030" stroke-width="1.6" />
<line x1="1533.0" y1="682.0" x2="1546.0" y2="682.0" stroke="#303030" stroke-width="1.6" />
<line x1="1533.0" y1="691.0" x2="1546.0" y2="691.0" stroke="#303030" stroke-width="1.6" />
<line x1="1533.0" y1="700.0" x2="1546.0" y2="700.0" stroke="#303030" stroke-width="1.6" />
<line x1="1533.0" y1="709.0" x2="1546.0" y2="709.0" stroke="#303030" stroke-width="1.6" />
<line x1="1533.0" y1="718.0" x2="1546.0" y2="718.0" stroke="#303030" stroke-width="1.6" />
<line x1="1533.0" y1="727.0" x2="1546.0" y2="727.0" stroke="#303030" stroke-width="1.6" />
<line x1="1533.0" y1="736.0" x2="1546.0" y2="736.0" stroke="#303030" stroke-width="1.6" />
<line x1="1533.0" y1="745.0" x2="1546.0" y2="745.0" stroke="#303030" stroke-width="1.6" />
<line x1="1533.0" y1="754.0" x2="1546.0" y2="754.0" stroke="#303030" stroke-width="1.6" />
<line x1="1533.0" y1="763.0" x2="1546.0" y2="763.0" stroke="#303030" stroke-width="1.6" />
<line x1="1533.0" y1="772.0" x2="1546.0" y2="772.0" stroke="#303030" stroke-width="1.6" />
<line x1="1533.0" y1="781.0" x2="1546.0" y2="781.0" stroke="#303030" stroke-width="1.6" />
<line x1="1533.0" y1="790.0" x2="1546.0" y2="790.0" stroke="#303030" stroke-width="1.6" />
<rect x="1576.0" y="608.0" width="25.0" height="186.0" fill="#fff" stroke="#303030" stroke-width="2.4" />
<line x1="1576.0" y1="617.0" x2="1601.0" y2="617.0" stroke="#303030" stroke-width="1.6" />
<line x1="1576.0" y1="626.0" x2="1601.0" y2="626.0" stroke="#303030" stroke-width="1.6" />
<line x1="1576.0" y1="635.0" x2="1601.0" y2="635.0" stroke="#303030" stroke-width="1.6" />
<line x1="1576.0" y1="644.0" x2="1601.0" y2="644.0" stroke="#303030" stroke-width="1.6" />
<line x1="1576.0" y1="653.0" x2="1601.0" y2="653.0" stroke="#303030" stroke-width="1.6" />
<line x1="1576.0" y1="662.0" x2="1601.0" y2="662.0" stroke="#303030" stroke-width="1.6" />
<line x1="1576.0" y1="671.0" x2="1601.0" y2="671.0" stroke="#303030" stroke-width="1.6" />
<line x1="1576.0" y1="680.0" x2="1601.0" y2="680.0" stroke="#303030" stroke-width="1.6" />
<line x1="1576.0" y1="689.0" x2="1601.0" y2="689.0" stroke="#303030" stroke-width="1.6" />
<line x1="1576.0" y1="698.0" x2="1601.0" y2="698.0" stroke="#303030" stroke-width="1.6" />
<line x1="1576.0" y1="707.0" x2="1601.0" y2="707.0" stroke="#303030" stroke-width="1.6" />
<line x1="1576.0" y1="716.0" x2="1601.0" y2="716.0" stroke="#303030" stroke-width="1.6" />
<line x1="1576.0" y1="725.0" x2="1601.0" y2="725.0" stroke="#303030" stroke-width="1.6" />
<line x1="1576.0" y1="734.0" x2="1601.0" y2="734.0" stroke="#303030" stroke-width="1.6" />
<line x1="1576.0" y1="743.0" x2="1601.0" y2="743.0" stroke="#303030" stroke-width="1.6" />
<line x1="1576.0" y1="752.0" x2="1601.0" y2="752.0" stroke="#303030" stroke-width="1.6" />
<line x1="1576.0" y1="761.0" x2="1601.0" y2="761.0" stroke="#303030" stroke-width="1.6" />
<line x1="1576.0" y1="770.0" x2="1601.0" y2="770.0" stroke="#303030" stroke-width="1.6" />
<line x1="1576.0" y1="779.0" x2="1601.0" y2="779.0" stroke="#303030" stroke-width="1.6" />
<line x1="1576.0" y1="788.0" x2="1601.0" y2="788.0" stroke="#303030" stroke-width="1.6" />
<rect x="1602.0" y="608.0" width="7.6" height="192.0" fill="#fff" stroke="#303030" stroke-width="2.4" />
<rect x="1597.5" y="399.0" width="60.0" height="91.0" fill="url(#hb)" stroke="#303030" stroke-width="2.4"/>
<rect x="1657.5" y="427.5" width="60.0" height="86.5" fill="#fff" stroke="#303030" stroke-width="2.4" />
<rect x="1725.0" y="419.0" width="54.0" height="103.5" fill="#fff" stroke="#303030" stroke-width="2.4" />
<line x1="1717.5" y1="470.0" x2="1725.0" y2="470.0" stroke="#303030" stroke-width="2.4" />
<rect x="1501.0" y="474.0" width="105.0" height="65.0" fill="#fff" stroke="#303030" stroke-width="2.4" />
<rect x="1438.0" y="491.0" width="28.0" height="29.0" fill="#fff" stroke="#303030" stroke-width="2.4" />
<rect x="1490.0" y="513.0" width="25.0" height="28.0" fill="#fff" stroke="#303030" stroke-width="2.4" />
<rect x="1578.0" y="541.0" width="31.0" height="34.0" fill="#fff" stroke="#303030" stroke-width="2.4" />
<rect x="1586.0" y="548.0" width="14.0" height="22.0" fill="#fff" stroke="#303030" stroke-width="2.4" />
<rect x="1606.0" y="491.0" width="63.0" height="33.0" fill="#fff" stroke="#303030" stroke-width="2.4" />
<rect x="1546.0" y="511.6" width="31.0" height="293.4" fill="#fff" stroke="#303030" stroke-width="2.4" rx="4"/>
<line x1="1581.0" y1="653.0" x2="1581.0" y2="711.0" stroke="#303030" stroke-width="4.5" />
<rect x="1584.0" y="650.0" width="16.0" height="55.0" fill="#fff" stroke="#303030" stroke-width="2.4" />
<line x1="1476.0" y1="438.8" x2="1476.0" y2="457.0" stroke="#303030" stroke-width="2.4" />
<line x1="1536.0" y1="438.8" x2="1536.0" y2="474.0" stroke="#303030" stroke-width="2.4" />
<line x1="1669.0" y1="513.0" x2="1725.6" y2="513.0" stroke="#303030" stroke-width="2.4" />
<rect x="1607.5" y="525.0" width="48.5" height="49.5" fill="url(#hb)" stroke="#303030" stroke-width="2.4" />
<rect x="1607.5" y="525.0" width="48.5" height="49.5" fill="url(#hf2)" stroke="#303030" stroke-width="2.4" />
<rect x="1575.0" y="575.6" width="87.0" height="32.4" fill="#fff" stroke="#303030" stroke-width="2.4" />
<rect x="1609.6" y="608.0" width="48.4" height="192.0" fill="url(#hb)" stroke="#303030" stroke-width="2.4"/>
<rect x="1658.0" y="530.0" width="9.6" height="240.0" fill="#fff" stroke="#303030" stroke-width="2.4" />
<rect x="1667.6" y="532.6" width="62.4" height="237.4" fill="url(#hf)" stroke="#303030" stroke-width="2.4"/>
<rect x="1667.6" y="770.0" width="62.4" height="214.0" fill="url(#hb)" stroke="#303030" stroke-width="2.4"/>
<rect x="1566.0" y="805.0" width="14.0" height="11.0" fill="#fff" stroke="#303030" stroke-width="2.4" />
<rect x="1585.0" y="796.0" width="24.0" height="20.0" fill="#fff" stroke="#303030" stroke-width="2.4" />
<rect x="1730.0" y="584.0" width="51.5" height="201.0" fill="#fff" stroke="#303030" stroke-width="2.4" />
<path d="M1781,636 L1790,638 L1807.5,640 L1807.5,725 L1790,727 L1781,730" fill="none" stroke="#303030" stroke-width="2.4" stroke-linejoin="round" />
<path d="M1857,727 C1840,725 1830,714 1807,712" fill="none" stroke="#303030" stroke-width="1.9" stroke-linejoin="round" stroke-dasharray="5 2"/>
<rect x="1730.0" y="851.0" width="18.0" height="52.0" fill="#fff" stroke="#303030" stroke-width="2.4" />
<path d="M1588,832 C1575,830 1570,815 1562,805" fill="none" stroke="#303030" stroke-width="1.9" stroke-linejoin="round" stroke-dasharray="5 2"/>
<path d="M968,949 L994.5,1025 L1455,1025 L1479,949" fill="#fff" stroke="#303030" stroke-width="2.4" stroke-linejoin="round" />
<path d="M967,947 C975,935 990,922 1035,913 L1373,913 L1408,921.5 L1477,947 Z" fill="#fff" stroke="#303030" stroke-width="2.4" stroke-linejoin="round" />
<path d="M984.0,947 Q1003.2,923.0 1039.0,914.0" fill="none" stroke="#303030" stroke-width="2.2" stroke-linejoin="round" />
<path d="M998.0,947 Q1019.7,923.0 1060.0,914.0" fill="none" stroke="#303030" stroke-width="2.2" stroke-linejoin="round" />
<path d="M1017.5,947 Q1043.8,923.0 1092.5,914.0" fill="none" stroke="#303030" stroke-width="2.2" stroke-linejoin="round" />
<path d="M1042.5,947 Q1072.2,923.0 1127.5,914.0" fill="none" stroke="#303030" stroke-width="2.2" stroke-linejoin="round" />
<path d="M1071.0,947 Q1103.2,923.0 1163.0,914.0" fill="none" stroke="#303030" stroke-width="2.2" stroke-linejoin="round" />
<path d="M1106.0,947 Q1139.6,923.0 1202.0,914.0" fill="none" stroke="#303030" stroke-width="2.2" stroke-linejoin="round" />
<path d="M1141.0,947 Q1171.8,923.0 1229.0,914.0" fill="none" stroke="#303030" stroke-width="2.2" stroke-linejoin="round" />
<path d="M1178.0,947 Q1202.5,923.0 1248.0,914.0" fill="none" stroke="#303030" stroke-width="2.2" stroke-linejoin="round" />
<path d="M1215.5,947 Q1231.6,923.0 1261.5,914.0" fill="none" stroke="#303030" stroke-width="2.2" stroke-linejoin="round" />
<path d="M1254.0,947 Q1272.5,930.0 1291.0,914.0" fill="none" stroke="#303030" stroke-width="2.2" stroke-linejoin="round" />
<path d="M1292.0,947 Q1307.0,930.0 1322.0,914.0" fill="none" stroke="#303030" stroke-width="2.2" stroke-linejoin="round" />
<path d="M1330.0,947 Q1326.4,928.0 1342.0,914.0" fill="none" stroke="#303030" stroke-width="2.2" stroke-linejoin="round" />
<path d="M1364.5,947 Q1358.5,928.0 1364.5,914.0" fill="none" stroke="#303030" stroke-width="2.2" stroke-linejoin="round" />
<path d="M1396.0,947 Q1399.6,928.0 1384.0,917.6" fill="none" stroke="#303030" stroke-width="2.2" stroke-linejoin="round" />
<path d="M1425.5,947 Q1426.7,928.0 1401.5,923.3" fill="none" stroke="#303030" stroke-width="2.2" stroke-linejoin="round" />
<path d="M1450.0,947 Q1451.6,928.0 1428.0,932.0" fill="none" stroke="#303030" stroke-width="2.2" stroke-linejoin="round" />
<path d="M1468.0,947 Q1471.2,928.0 1454.0,940.5" fill="none" stroke="#303030" stroke-width="2.2" stroke-linejoin="round" />
<path d="M967,947 L976.5,947 L977.0,956 Q977.3,962.5 980.0,962.5 Q982.7,962.5 983.0,956 L983.5,947 L988.5,947 L989.0,956 Q989.3,962.5 993.0,962.5 Q996.7,962.5 997.0,956 L997.5,947 L1008.0,947 L1008.5,956 Q1008.8,962.5 1012.5,962.5 Q1016.2,962.5 1016.5,956 L1017.0,947 L1032.0,947 L1032.5,956 Q1032.8,962.5 1037.0,962.5 Q1041.2,962.5 1041.5,956 L1042.0,947 L1059.5,947 L1060.0,956 Q1060.3,962.5 1065.0,962.5 Q1069.7,962.5 1070.0,956 L1070.5,947 L1092.5,947 L1093.0,956 Q1093.3,962.5 1099.0,962.5 Q1104.7,962.5 1105.0,956 L1105.5,947 L1127.5,947 L1128.0,956 Q1128.3,962.5 1134.0,962.5 Q1139.7,962.5 1140.0,956 L1140.5,947 L1164.5,947 L1165.0,956 Q1165.3,962.5 1171.0,962.5 Q1176.7,962.5 1177.0,956 L1177.5,947 L1203.0,947 L1203.5,956 Q1203.8,962.5 1209.0,962.5 Q1214.2,962.5 1214.5,956 L1215.0,947 L1240.5,947 L1241.0,956 Q1241.3,962.5 1247.0,962.5 Q1252.7,962.5 1253.0,956 L1253.5,947 L1278.5,947 L1279.0,956 Q1279.3,962.5 1285.0,962.5 Q1290.7,962.5 1291.0,956 L1291.5,947 L1316.5,947 L1317.0,956 Q1317.3,962.5 1323.0,962.5 Q1328.7,962.5 1329.0,956 L1329.5,947 L1352.0,947 L1352.5,956 Q1352.8,962.5 1358.0,962.5 Q1363.2,962.5 1363.5,956 L1364.0,947 L1384.5,947 L1385.0,956 Q1385.3,962.5 1390.0,962.5 Q1394.7,962.5 1395.0,956 L1395.5,947 L1415.0,947 L1415.5,956 Q1415.8,962.5 1420.0,962.5 Q1424.2,962.5 1424.5,956 L1425.0,947 L1440.5,947 L1441.0,956 Q1441.3,962.5 1445.0,962.5 Q1448.7,962.5 1449.0,956 L1449.5,947 L1460.5,947 L1461.0,956 Q1461.3,962.5 1464.0,962.5 Q1466.7,962.5 1467.0,956 L1467.5,947 L1477,947" fill="none" stroke="#303030" stroke-width="2.4" stroke-linejoin="round" />
<rect x="986.0" y="1026.0" width="473.5" height="32.0" fill="#fff" stroke="#303030" stroke-width="2.4" />
<rect x="1007.0" y="1066.7" width="42.0" height="27.9" fill="#fff" stroke="#303030" stroke-width="2.4" />
<rect x="997.0" y="1058.0" width="60.0" height="8.7" fill="#fff" stroke="#303030" stroke-width="2.4" />
<rect x="1071.0" y="1066.7" width="42.0" height="27.9" fill="#fff" stroke="#303030" stroke-width="2.4" />
<rect x="1060.0" y="1058.0" width="63.0" height="8.7" fill="#fff" stroke="#303030" stroke-width="2.4" />
<rect x="1187.0" y="1066.7" width="42.0" height="27.9" fill="#fff" stroke="#303030" stroke-width="2.4" />
<rect x="1179.0" y="1058.0" width="60.0" height="8.7" fill="#fff" stroke="#303030" stroke-width="2.4" />
<rect x="1311.5" y="1066.7" width="41.5" height="27.9" fill="#fff" stroke="#303030" stroke-width="2.4" />
<rect x="1303.0" y="1058.0" width="59.0" height="8.7" fill="#fff" stroke="#303030" stroke-width="2.4" />
<rect x="1392.5" y="1066.7" width="41.5" height="27.9" fill="#fff" stroke="#303030" stroke-width="2.4" />
<rect x="1385.5" y="1058.0" width="60.1" height="8.7" fill="#fff" stroke="#303030" stroke-width="2.4" />
<rect x="1058.7" y="1058.0" width="331.0" height="87.0" fill="#fff" stroke="#303030" stroke-width="2.4" />
<rect x="1071.0" y="1066.7" width="42.0" height="27.9" fill="#fff" stroke="#303030" stroke-width="2.4" />
<rect x="1060.0" y="1058.0" width="63.0" height="8.7" fill="#fff" stroke="#303030" stroke-width="2.4" />
<rect x="1187.0" y="1066.7" width="42.0" height="27.9" fill="#fff" stroke="#303030" stroke-width="2.4" />
<rect x="1179.0" y="1058.0" width="60.0" height="8.7" fill="#fff" stroke="#303030" stroke-width="2.4" />
<rect x="1311.5" y="1066.7" width="41.5" height="27.9" fill="#fff" stroke="#303030" stroke-width="2.4" />
<rect x="1303.0" y="1058.0" width="59.0" height="8.7" fill="#fff" stroke="#303030" stroke-width="2.4" />
<path d="M1135.5,1145 L1146.7,1159 L1303,1159 L1317,1145" fill="none" stroke="#303030" stroke-width="2.4" stroke-linejoin="round" />
<rect x="1146.7" y="1159.0" width="156.3" height="12.5" fill="#fff" stroke="#303030" stroke-width="2.4" />
<rect x="1123.0" y="1171.5" width="201.0" height="40.5" fill="#fff" stroke="#303030" stroke-width="2.4" />
<line x1="1123.0" y1="1182.6" x2="1324.0" y2="1182.6" stroke="#303030" stroke-width="2.4" />
<path d="M1324,1190 C1345,1190 1355,1200 1365,1215 C1372,1228 1380,1238 1392,1240" fill="none" stroke="#303030" stroke-width="1.9" stroke-linejoin="round" stroke-dasharray="5 2"/>
<g opacity="0.995">
<text transform="translate(679.71,63.63) scale(0.7902,1)" font-size="37.18" fill="#2e2e2e">VEHICLE RIGHT SIDE</text>
<text transform="translate(679.71,1290.15) scale(0.8335,1)" font-size="35.21" fill="#2e2e2e">VEHICLE LEFT SIDE</text>
<text transform="translate(196.41,1122.25) scale(0.8423,1)" font-size="34.65" fill="#2e2e2e">VEHICLE FRONT SIDE</text>
<text transform="translate(1551.21,1122.23) scale(0.7827,1)" font-size="37.46" fill="#2e2e2e">VEHICLE REAR SIDE</text>
<text transform="translate(1112.20,70.00) scale(0.8379,1)" font-size="36.23" fill="#2e2e2e">VIII</text>
<text transform="translate(1113.71,1320.50) scale(0.7886,1)" font-size="36.23" fill="#2e2e2e">VIII</text>
<text transform="translate(309.69,955.50) scale(0.8625,1)" font-size="36.23" fill="#2e2e2e">VII</text>
<text transform="translate(1791.19,955.50) scale(0.8625,1)" font-size="36.23" fill="#2e2e2e">VII</text>
<text transform="translate(1326.78,89.40) scale(1.0014,1)" font-size="36.17" fill="#2e2e2e">4(4b)</text>
<text transform="translate(1390.77,1257.40) scale(1.0137,1)" font-size="36.17" fill="#2e2e2e">4(4a)</text>
<text transform="translate(238.30,229.62) scale(1.1190,1)" font-size="38.03" fill="#2e2e2e">3</text>
<text transform="translate(430.10,250.00) scale(1.0009,1)" font-size="36.23" fill="#2e2e2e">11</text>
<text transform="translate(630.34,289.00) scale(0.8804,1)" font-size="37.68" fill="#2e2e2e">41</text>
<text transform="translate(821.76,285.00) scale(1.0365,1)" font-size="35.71" fill="#2e2e2e">42</text>
<text transform="translate(884.26,278.65) scale(1.0549,1)" font-size="35.21" fill="#2e2e2e">43</text>
<text transform="translate(977.25,324.65) scale(0.9926,1)" font-size="35.21" fill="#2e2e2e">64</text>
<text transform="translate(1374.19,321.00) scale(1.0119,1)" font-size="35.71" fill="#2e2e2e">22</text>
<text transform="translate(1453.16,354.65) scale(1.0441,1)" font-size="35.21" fill="#2e2e2e">65</text>
<text transform="translate(421.61,400.63) scale(1.0113,1)" font-size="37.32" fill="#2e2e2e">20</text>
<text transform="translate(779.16,379.24) scale(1.0196,1)" font-size="36.06" fill="#2e2e2e">63</text>
<text transform="translate(793.14,500.65) scale(1.0545,1)" font-size="35.21" fill="#2e2e2e">62</text>
<text transform="translate(462.54,535.64) scale(1.0217,1)" font-size="35.63" fill="#2e2e2e">50</text>
<text transform="translate(296.52,798.63) scale(0.9885,1)" font-size="37.32" fill="#2e2e2e">30</text>
<text transform="translate(568.27,808.63) scale(0.9285,1)" font-size="37.32" fill="#2e2e2e">61</text>
<text transform="translate(644.67,859.65) scale(0.9467,1)" font-size="35.21" fill="#2e2e2e">31</text>
<text transform="translate(846.13,847.68) scale(1.0828,1)" font-size="31.69" fill="#2e2e2e">32</text>
<text transform="translate(921.04,852.65) scale(1.0340,1)" font-size="35.21" fill="#2e2e2e">33</text>
<text transform="translate(984.24,907.16) scale(1.0496,1)" font-size="33.52" fill="#2e2e2e">64a</text>
<text transform="translate(1055.06,874.65) scale(1.0449,1)" font-size="34.51" fill="#2e2e2e">34</text>
<text transform="translate(1339.58,873.63) scale(0.9494,1)" font-size="37.32" fill="#2e2e2e">36</text>
<text transform="translate(1587.23,845.11) scale(0.9164,1)" font-size="38.73" fill="#2e2e2e">63a</text>
<text transform="translate(1207.19,775.67) scale(1.0960,1)" font-size="33.10" fill="#2e2e2e">66</text>
<text transform="translate(1861.30,738.65) scale(0.9872,1)" font-size="35.21" fill="#2e2e2e">40</text>
<text transform="translate(568.27,945.50) scale(0.8821,1)" font-size="39.29" fill="#2e2e2e">21</text>
<text transform="translate(743.23,937.65) scale(1.0080,1)" font-size="35.21" fill="#2e2e2e">61a</text>
<text transform="translate(1549.66,962.61) scale(0.9492,1)" font-size="38.73" fill="#2e2e2e">23</text>
<text transform="translate(862.83,1053.37) scale(1.1826,1)" font-size="36.76" fill="#2e2e2e">7</text>
</g>
</svg>
</body></html>
